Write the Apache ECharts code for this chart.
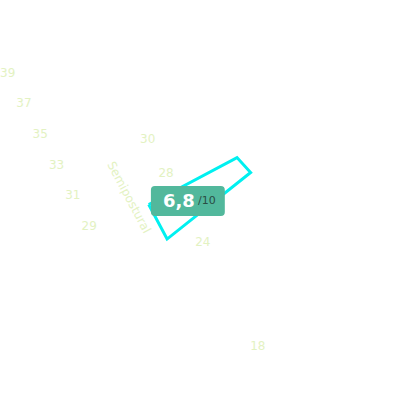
<!DOCTYPE html>
<html>
<head>
<meta charset="utf-8">
<script src="https://cdn.jsdelivr.net/npm/echarts@6/dist/echarts.min.js"></script>
<style>
html,body{margin:0;padding:0;width:400px;height:400px;overflow:hidden;background:#ffffff;}
#chart{position:absolute;left:-100px;top:-100px;width:600px;height:600px;transform:rotate(-28deg);transform-origin:50% 50%;}
</style>
</head>
<body>
<div id="chart"></div>
<script>
// ---- data ----
const tiltDeg = 28;
const leftTicks = [39, 37, 35, 33, 31, 29];
const rightTicks = [30, 28, 24, 18];
const axisName = 'Semipostural';
const shapeX = [-3, 7, 7.5, -3];
const shapeY = [27, 27, 26, 25];
const score = 6.8;
const scoreMax = 10;

// ---- derived ----
const shapeData = shapeX.map((x, i) => [x, shapeY[i]]);
shapeData.push([shapeX[0], shapeY[0]]);
const cx = shapeX.reduce((a, b) => a + b, 0) / shapeX.length;
const cy = shapeY.reduce((a, b) => a + b, 0) / shapeY.length;
const scoreText = String(score).replace('.', ',');

const labelColor = '#e3f2c2';
const font = 'DejaVu Sans, sans-serif';

const chart = echarts.init(document.getElementById('chart'), null, { renderer: 'svg' });
chart.setOption({
  animation: false,
  backgroundColor: '#ffffff',
  grid: [
    { left: 189.9, top: 10.45, width: 50, height: 555.84, outerBoundsMode: 'none' },
    { left: 182.6, top: 33.6, width: 300, height: 461.38, outerBoundsMode: 'none' }
  ],
  xAxis: [
    { gridIndex: 0, type: 'value', min: 0, max: 1, show: false },
    { gridIndex: 1, type: 'value', min: -10, max: 20, show: false }
  ],
  yAxis: [
    {
      gridIndex: 0, type: 'value', min: 12, max: 44,
      axisLine: { show: false, onZero: false },
      axisTick: { show: false },
      splitLine: { show: false },
      axisLabel: {
        customValues: leftTicks, margin: 0, rotate: -tiltDeg,
        align: 'center', verticalAlign: 'middle',
        color: labelColor, fontSize: 12, fontFamily: font
      }
    },
    {
      gridIndex: 1, type: 'value', min: 16, max: 39.6, offset: -100,
      name: axisName, nameLocation: 'middle', nameGap: 44, nameRotate: -90,
      nameMoveOverlap: false,
      nameTextStyle: { color: labelColor, fontSize: 12, fontFamily: font, align: 'center', verticalAlign: 'middle' },
      axisLine: { show: false, onZero: false },
      axisTick: { show: false },
      splitLine: { show: false },
      axisLabel: {
        customValues: rightTicks, margin: 0, rotate: -tiltDeg,
        align: 'center', verticalAlign: 'middle',
        color: labelColor, fontSize: 12, fontFamily: font
      }
    }
  ],
  series: [
    {
      type: 'line', xAxisIndex: 1, yAxisIndex: 1, z: 2,
      data: shapeData, showSymbol: false, silent: true, clip: false,
      lineStyle: { color: '#00f0f0', width: 3, join: 'miter' }
    },
    {
      type: 'scatter', xAxisIndex: 1, yAxisIndex: 1, z: 5,
      data: [[cx, cy]], symbolSize: 0, silent: true,
      itemStyle: { opacity: 1 },
      label: {
        show: true, position: 'inside', offset: [-13, 7.5], rotate: -tiltDeg,
        formatter: () => '{a|' + scoreText + '} {b|/' + scoreMax + '}',
        backgroundColor: '#52b89c', borderRadius: 4, padding: [6, 9, 6, 12],
        rich: {
          a: { fontSize: 18, fontWeight: 'bold', color: '#ffffff', fontFamily: font },
          b: { fontSize: 11, color: '#2a4d44', fontFamily: font }
        }
      }
    }
  ]
});
</script>
</body>
</html>
